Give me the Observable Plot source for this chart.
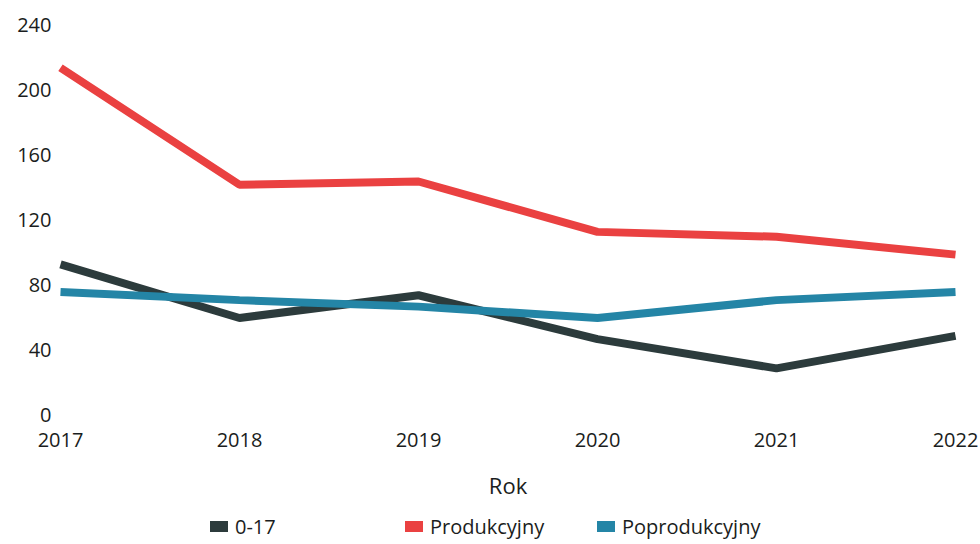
<!DOCTYPE html>
<html>
<head>
<meta charset="utf-8">
<script src="https://cdn.jsdelivr.net/npm/d3@7"></script>
<script src="https://cdn.jsdelivr.net/npm/@observablehq/plot@0.6"></script>
<style>
  html, body { margin: 0; padding: 0; background: #fff; }
  body { width: 980px; height: 544px; overflow: hidden; font-family: "Open Sans", "Noto Sans", sans-serif; color: #1a1d20; }
  #legend { position: relative; width: 980px; height: 39px; font-size: 20px; }
  .item { position: absolute; top: 2px; height: 39px; display: flex; align-items: center; }
  .sw { width: 18px; height: 11px; margin-right: 7px; }
</style>
</head>
<body>
<div id="chart"></div>
<div id="legend"></div>
<script>
const years = [2017, 2018, 2019, 2020, 2021, 2022];
const seriesNames = ["0-17", "Produkcyjny", "Poprodukcyjny"];
const values0to17 = [93, 60, 74, 47, 29, 49];
const valuesProdukcyjny = [214, 142, 144, 113, 110, 99];
const valuesPoprodukcyjny = [76, 71, 67, 60, 71, 76];
const yTicks = [0, 40, 80, 120, 160, 200, 240];
const colors = ["#2c3b3c", "#ea4141", "#2485a6"];
const xLabel = "Rok";

const seriesValues = [values0to17, valuesProdukcyjny, valuesPoprodukcyjny];
const rows = [];
seriesNames.forEach((name, i) => {
  years.forEach((yr, j) => rows.push({series: name, year: yr, value: seriesValues[i][j]}));
});

const plot = Plot.plot({
  width: 980,
  height: 505,
  marginLeft: 60,
  marginRight: 25,
  marginTop: 25,
  marginBottom: 90,
  style: {fontFamily: "'Open Sans', 'Noto Sans', sans-serif", fontSize: "20px", color: "#1a1d20", background: "#fff"},
  x: {domain: [2017, 2022], ticks: years, tickFormat: d => String(d), tickSize: 0, tickPadding: 17, label: null},
  y: {domain: [0, 240], ticks: yTicks, tickSize: 0, tickPadding: 9, label: null},
  color: {domain: seriesNames, range: colors},
  marks: [
    Plot.line(rows, {x: "year", y: "value", z: "series", stroke: "series", strokeWidth: 8, strokeLinejoin: "miter", strokeLinecap: "butt"}),
    Plot.text([xLabel], {frameAnchor: "bottom", dy: 71, lineAnchor: "middle", fontSize: 22, fill: "#1a1d20"})
  ]
});
document.getElementById("chart").appendChild(plot);

const legend = document.getElementById("legend");
const legendX = [210, 405, 597];
seriesNames.forEach((name, i) => {
  const item = document.createElement("div");
  item.className = "item";
  item.style.left = legendX[i] + "px";
  const sw = document.createElement("span");
  sw.className = "sw";
  sw.style.background = colors[i];
  const t = document.createElement("span");
  t.textContent = name;
  item.appendChild(sw);
  item.appendChild(t);
  legend.appendChild(item);
});
</script>
</body>
</html>
